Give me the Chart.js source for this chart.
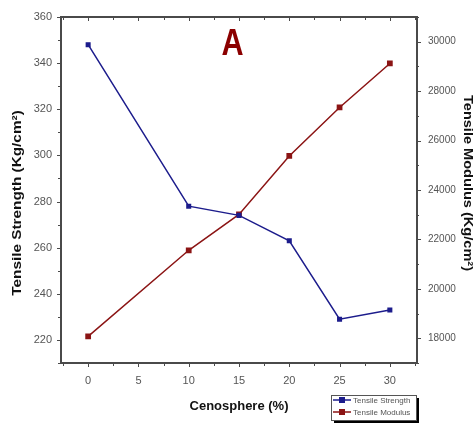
<!DOCTYPE html>
<html><head><meta charset="utf-8">
<script src="https://cdn.jsdelivr.net/npm/chart.js@4"></script>
<style>html,body{margin:0;padding:0;background:#fff}#wrap{width:476px;height:423px}</style>
</head><body><div id="wrap"><canvas id="c" width="476" height="423"></canvas></div>
<script>
const cenosphere = [0, 10, 15, 20, 25, 30];
const tensileStrength = [348, 278, 274, 263, 229, 233];
const tensileModulus = [18080, 21560, 23010, 25380, 27340, 29120];
const xTickValues = [0, 5, 10, 15, 20, 25, 30];
const leftTickValues = [220, 240, 260, 280, 300, 320, 340, 360];
const rightTickValues = [18000, 20000, 22000, 24000, 26000, 28000, 30000];
const seriesNames = ['Tensile Strength', 'Tensile Modulus'];
const panelLabel = 'A';
const xTitle = 'Cenosphere (%)';
const leftTitle = 'Tensile Strength (Kg/cm\u00B2)';
const rightTitle = 'Tensile Modulus (Kg/cm\u00B2)';

const BLUE = '#1c1c8c', RED = '#8b1414', AX = '#4a4a4a';
const FONT = "'Liberation Sans', Arial, sans-serif";

function fixed(vals){ return s => { s.ticks = vals.map(v => ({value: v})); }; }

const deco = {
  id: 'deco',
  afterDraw(chart) {
    const {ctx, chartArea: a, scales: {x, y, y2}} = chart;
    ctx.save();
    ctx.strokeStyle = AX; ctx.lineWidth = 2;
    ctx.beginPath(); ctx.moveTo(a.left - 1, a.top); ctx.lineTo(a.right + 1, a.top); ctx.stroke();
    ctx.lineWidth = 1;
    ctx.beginPath();
    for (let v = -2.5; v <= 32.5; v += 2.5) {
      const px = Math.round(x.getPixelForValue(v)) + 0.5;
      const L = (v % 5 === 0) ? 4 : 3;
      ctx.moveTo(px, a.bottom); ctx.lineTo(px, a.bottom + L);
      ctx.moveTo(px, a.top); ctx.lineTo(px, a.top + L);
    }
    for (let v = 210; v <= 360; v += 10) {
      const py = Math.round(y.getPixelForValue(v)) + 0.5;
      const L = (v % 20 === 0) ? 4 : 3;
      ctx.moveTo(a.left, py); ctx.lineTo(a.left - L, py);
    }
    for (let v = 17000; v <= 31000; v += 1000) {
      const py = Math.round(y2.getPixelForValue(v)) + 0.5;
      const L = (v % 2000 === 0) ? 4 : 2;
      ctx.moveTo(a.right, py); ctx.lineTo(a.right + L, py);
    }
    ctx.stroke();

    // panel label
    ctx.fillStyle = '#8b0000';
    ctx.font = 'bold 36px ' + FONT;
    ctx.textAlign = 'center'; ctx.textBaseline = 'middle';
    ctx.save(); ctx.translate(232.5, 45); ctx.scale(0.85, 1); ctx.fillText(panelLabel, 0, 0); ctx.restore();

    // axis titles
    ctx.fillStyle = '#111';
    ctx.font = 'bold 13px ' + FONT;
    ctx.fillText(xTitle, (a.left + a.right) / 2, 406);
    ctx.save(); ctx.translate(17, 203); ctx.rotate(-Math.PI / 2); ctx.scale(1.18, 1);
    ctx.fillText(leftTitle, 0, 0); ctx.restore();
    ctx.save(); ctx.translate(468, 183); ctx.rotate(Math.PI / 2); ctx.scale(1.12, 1);
    ctx.fillText(rightTitle, 0, 0); ctx.restore();

    // legend
    const bx = 331, by = 395, bw = 85, bh = 25;
    ctx.fillStyle = '#000'; ctx.fillRect(bx + 3, by + 3, bw, bh);
    ctx.fillStyle = '#fff'; ctx.fillRect(bx, by, bw, bh);
    ctx.strokeStyle = '#555'; ctx.lineWidth = 1; ctx.strokeRect(bx + 0.5, by + 0.5, bw, bh);
    const cols = [BLUE, RED];
    ctx.font = '8px ' + FONT; ctx.textAlign = 'left';
    seriesNames.forEach((n, i) => {
      const yy = by + 5 + i * 12;
      ctx.strokeStyle = cols[i]; ctx.lineWidth = 1.5;
      ctx.beginPath(); ctx.moveTo(bx + 2, yy); ctx.lineTo(bx + 20, yy); ctx.stroke();
      ctx.fillStyle = cols[i]; ctx.fillRect(bx + 8, yy - 3, 6, 6);
      ctx.fillStyle = '#555'; ctx.fillText(n, bx + 22, yy + 1);
    });
    ctx.restore();
  }
};

new Chart(document.getElementById('c'), {
  type: 'line',
  data: {
    datasets: [
      { label: seriesNames[0], data: cenosphere.map((c, i) => ({x: c, y: tensileStrength[i]})), yAxisID: 'y',
        borderColor: BLUE, backgroundColor: BLUE, borderWidth: 1.5, pointStyle: 'rect', pointRadius: 2.5, tension: 0 },
      { label: seriesNames[1], data: cenosphere.map((c, i) => ({x: c, y: tensileModulus[i]})), yAxisID: 'y2',
        borderColor: RED, backgroundColor: RED, borderWidth: 1.5, pointStyle: 'rect', pointRadius: 3, tension: 0 }
    ]
  },
  options: {
    responsive: false, devicePixelRatio: 1, animation: false,
    layout: { padding: { top: 17, left: 0, right: 0, bottom: 0 } },
    plugins: { legend: { display: false }, tooltip: { enabled: false } },
    scales: {
      x: { type: 'linear', position: 'bottom', min: -2.7, max: 32.7,
        afterBuildTicks: fixed(xTickValues), afterFit: s => { s.height = 60; },
        grid: { display: false }, border: { display: true, color: AX, width: 2 },
        ticks: { color: '#555', font: { family: FONT, size: 11 }, padding: 3 } },
      y: { type: 'linear', position: 'left', min: 210, max: 360,
        afterBuildTicks: fixed(leftTickValues), afterFit: s => { s.width = 61; },
        grid: { display: false }, border: { display: true, color: AX, width: 2 },
        ticks: { color: '#555', font: { family: FONT, size: 11 }, padding: 1 } },
      y2: { type: 'linear', position: 'right', min: 17000, max: 31000,
        afterBuildTicks: fixed(rightTickValues), afterFit: s => { s.width = 59; },
        grid: { display: false }, border: { display: true, color: AX, width: 2 },
        ticks: { color: '#555', font: { family: FONT, size: 10 }, padding: 3,
          callback: v => String(v) } }
    }
  },
  plugins: [deco]
});
</script></body></html>
